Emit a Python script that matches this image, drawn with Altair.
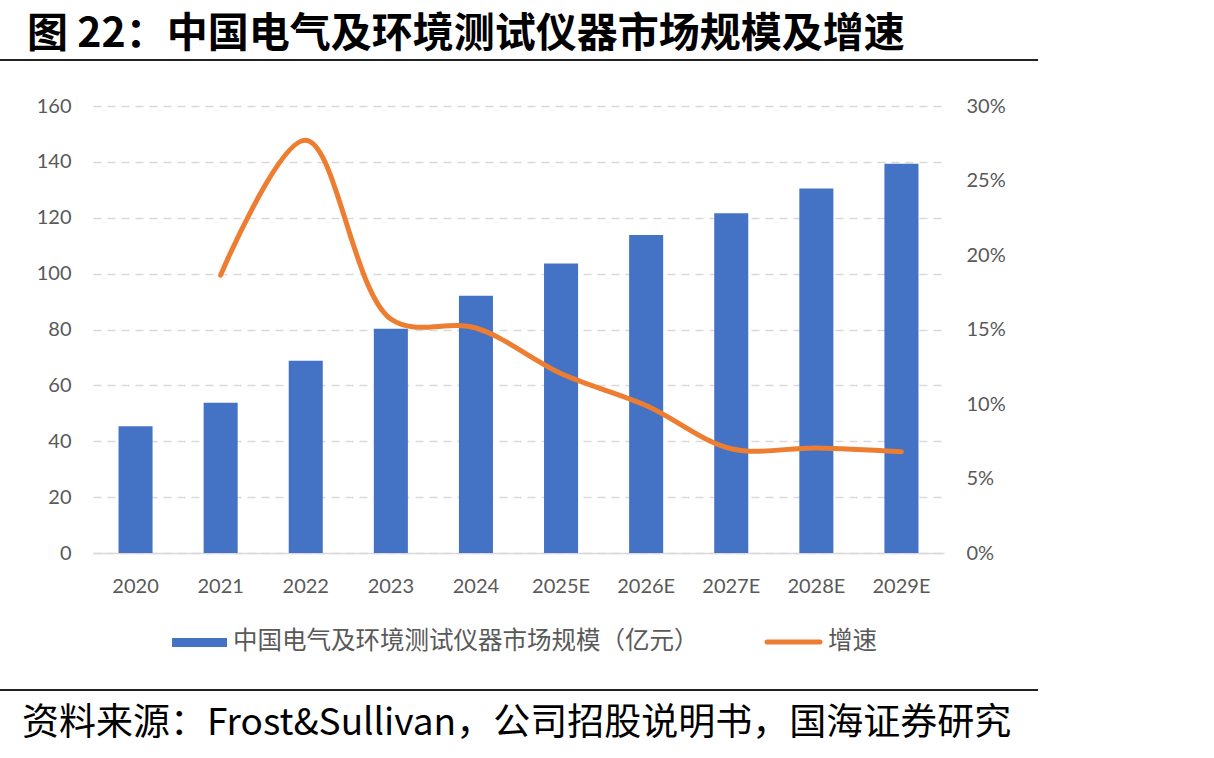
import altair as alt
import pandas as pd

# Market size (100 million CNY) and year-on-year growth
years = ["2020", "2021", "2022", "2023", "2024", "2025E", "2026E", "2027E", "2028E", "2029E"]
market_size = [45.4, 53.8, 68.8, 80.3, 92.1, 103.6, 113.8, 121.6, 130.5, 139.3]
growth = [None, 0.1865, 0.277, 0.157, 0.151, 0.1205, 0.099, 0.070, 0.0705, 0.068]

title_text = "图 22：中国电气及环境测试仪器市场规模及增速"
source_text = "资料来源：Frost&Sullivan，公司招股说明书，国海证券研究"
bar_label = "中国电气及环境测试仪器市场规模（亿元）"
line_label = "增速"

BLUE = "#4472C4"
ORANGE = "#ED7D31"
GREY_TEXT = "#595959"
GRID = "#D9D9D9"
NUM_FONT = "Lato"
CJK_FONT = "Noto Sans CJK SC"

df = pd.DataFrame({"year": years, "size": market_size, "growth": growth})

W, H = 851, 447
PAD_L, PAD_T = 93, 106

x_enc = alt.X(
    "year:N",
    sort=years,
    title=None,
    scale=alt.Scale(paddingInner=0.6, paddingOuter=0.3),
    axis=alt.Axis(
        labelAngle=0,
        labelFont=NUM_FONT,
        labelFontSize=20,
        labelColor=GREY_TEXT,
        labelPadding=23,
        ticks=False,
        domainColor=GRID,
        domainWidth=1.5,
    ),
)

bars = alt.Chart(df).mark_bar(color=BLUE).encode(
    x=x_enc,
    y=alt.Y(
        "size:Q",
        title=None,
        scale=alt.Scale(domain=[0, 160], nice=False),
        axis=alt.Axis(
            values=list(range(0, 161, 20)),
            labelFont=NUM_FONT,
            labelFontSize=20,
            labelColor=GREY_TEXT,
            labelPadding=22,
            ticks=False,
            domain=False,
            grid=True,
            gridColor=GRID,
            gridDash=[8, 6],
            gridWidth=1.5,
        ),
    ),
)

line = (
    alt.Chart(df)
    .transform_filter("datum.growth != null")
    .mark_line(color=ORANGE, strokeWidth=5, interpolate="catmull-rom", strokeCap="round")
    .encode(
        x=x_enc,
        y=alt.Y(
            "growth:Q",
            title=None,
            scale=alt.Scale(domain=[0, 0.3], nice=False),
            axis=alt.Axis(
                orient="right",
                format=".0%",
                values=[0, 0.05, 0.10, 0.15, 0.20, 0.25, 0.30],
                labelFont=NUM_FONT,
                labelFontSize=20,
                labelColor=GREY_TEXT,
                labelPadding=22,
                ticks=False,
                domain=False,
                grid=False,
            ),
        ),
    )
)

one = alt.Data(values=[{}])

title_mark = alt.Chart(one).mark_text(
    text=title_text, font=CJK_FONT, fontSize=41, fontWeight="bold",
    color="#000000", align="left", baseline="alphabetic",
).encode(x=alt.value(27 - PAD_L), y=alt.value(47 - PAD_T))

top_rule = alt.Chart(one).mark_rule(color="#222222", strokeWidth=2).encode(
    x=alt.value(-PAD_L), x2=alt.value(1038 - PAD_L), y=alt.value(60 - PAD_T)
)
bottom_rule = alt.Chart(one).mark_rule(color="#222222", strokeWidth=2).encode(
    x=alt.value(-PAD_L), x2=alt.value(1038 - PAD_L), y=alt.value(690 - PAD_T)
)

source_mark = alt.Chart(one).mark_text(
    text=source_text, font=CJK_FONT, fontSize=37, color="#000000",
    align="left", baseline="middle",
).encode(x=alt.value(22 - PAD_L), y=alt.value(724 - PAD_T))

# legend entries
leg_y = 642 - PAD_T
leg_rect = alt.Chart(one).mark_rect(color=BLUE).encode(
    x=alt.value(172 - PAD_L), x2=alt.value(227 - PAD_L),
    y=alt.value(leg_y - 4), y2=alt.value(leg_y + 5),
)
leg_text1 = alt.Chart(one).mark_text(
    text=bar_label, font=CJK_FONT, fontSize=24.5, color=GREY_TEXT,
    align="left", baseline="middle",
).encode(x=alt.value(233 - PAD_L), y=alt.value(leg_y))
leg_line = alt.Chart(one).mark_rule(color=ORANGE, strokeWidth=5, strokeCap="round").encode(
    x=alt.value(767 - PAD_L), x2=alt.value(820 - PAD_L), y=alt.value(leg_y)
)
leg_text2 = alt.Chart(one).mark_text(
    text=line_label, font=CJK_FONT, fontSize=24.5, color=GREY_TEXT,
    align="left", baseline="middle",
).encode(x=alt.value(828 - PAD_L), y=alt.value(leg_y))

chart = (
    alt.layer(
        bars, line, title_mark, top_rule, bottom_rule, source_mark,
        leg_rect, leg_text1, leg_line, leg_text2,
    )
    .resolve_scale(y="independent")
    .properties(
        width=W,
        height=H,
        autosize=alt.AutoSizeParams(type="none"),
        padding={"left": PAD_L, "top": PAD_T, "right": 1214 - PAD_L - W, "bottom": 758 - PAD_T - H},
        background="#FFFFFF",
    )
    .configure_view(stroke=None)
)

chart.save("out.html", embed_options={"renderer": "svg", "actions": False})
